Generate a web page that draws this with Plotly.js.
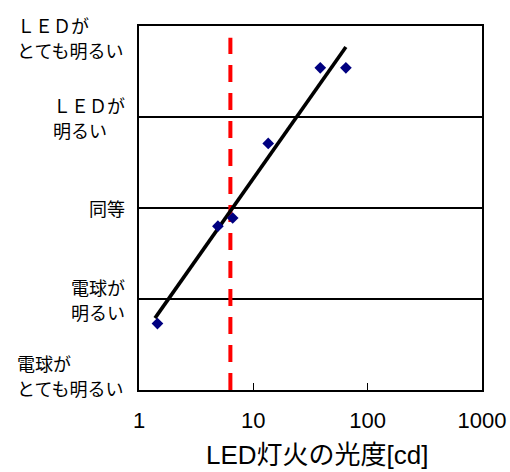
<!DOCTYPE html>
<html>
<head>
<meta charset="utf-8">
<script src="https://cdn.plot.ly/plotly-3.0.1.min.js"></script>
<style>
html,body{margin:0;padding:0;background:#fff;}
#chart{width:510px;height:472px;}
</style>
</head>
<body>
<div id="chart"></div>
<script>
// Data
var pointX = [1.45, 4.9, 6.6, 13.5, 38.5, 64.5];
var pointY = [-1.27, -0.2, -0.11, 0.71, 1.54, 1.54];
var trendX = [1.38, 64.5];
var trendY = [-1.21, 1.77];
var refX = [6.3, 6.3];
var refY = [-2, 1.87];
var xTickVals = [1, 10, 100, 1000];
var xTickText = ['1', '10', '100', '1000'];
var yLabelVals = [1.87, 1, 0, -1, -1.84];
var yLabels = ['ＬＥＤが<br>とても明るい', 'ＬＥＤが<br>明るい', '同等', '電球が<br>明るい', '電球が<br>とても明るい'];
var xTitle = 'LED灯火の光度[cd]';

var jp = '"Noto Sans CJK JP", "Noto Sans", sans-serif';
var latin = '"Liberation Sans", Arial, sans-serif';
var labelSize = 18;
var linePitch = 25;
var labelGap = 13;

var traces = [
  {x: refX, y: refY, type: 'scatter', mode: 'lines',
   line: {color: '#ff0000', width: 4, dash: '17px,11px'}, hoverinfo: 'skip'},
  {x: trendX, y: trendY, type: 'scatter', mode: 'lines',
   line: {color: '#000000', width: 3.6}, hoverinfo: 'skip'},
  {x: pointX, y: pointY, type: 'scatter', mode: 'markers',
   marker: {symbol: 'diamond', color: '#000080', size: 9, line: {width: 0}}}
];

var ctx = document.createElement('canvas').getContext('2d');
ctx.font = labelSize + 'px ' + jp;

var annotations = [];
yLabels.forEach(function (t, i) {
  var lines = t.split('<br>');
  var widths = lines.map(function (s) { return ctx.measureText(s).width; });
  var blockW = Math.max.apply(null, widths);
  lines.forEach(function (s, k) {
    annotations.push({text: s, xref: 'paper', yref: 'y', x: 0, y: yLabelVals[i],
      xanchor: 'left', yanchor: 'middle', xshift: -labelGap - blockW - 2,
      yshift: ((lines.length - 1) / 2 - k) * linePitch,
      showarrow: false, borderpad: 0,
      font: {family: jp, size: labelSize, color: '#000'}});
  });
});
annotations.push({text: xTitle, xref: 'paper', yref: 'paper', x: 0.5, y: 0,
  xanchor: 'center', yanchor: 'bottom', xshift: 7, yshift: -82, showarrow: false,
  font: {family: latin + ', ' + jp, size: 26, color: '#000'}});

var layout = {
  width: 510, height: 472,
  margin: {l: 139, r: 28, t: 26, b: 82},
  paper_bgcolor: '#fff', plot_bgcolor: '#fff',
  showlegend: false,
  xaxis: {type: 'log', range: [0, 3], tickvals: xTickVals, ticktext: xTickText,
    ticks: 'inside', ticklen: 7, tickwidth: 1, tickcolor: '#000',
    showline: true, mirror: true, linecolor: '#000', linewidth: 2,
    showgrid: false, zeroline: false, ticklabelstandoff: 10,
    tickfont: {family: latin, size: 22, color: '#000'}},
  yaxis: {range: [-2, 2], tickvals: [-1, 0, 1], showticklabels: false, ticks: '',
    showline: true, mirror: true, linecolor: '#000', linewidth: 2,
    showgrid: true, gridcolor: '#000', gridwidth: 1.5, zeroline: false},
  annotations: annotations
};

Plotly.newPlot('chart', traces, layout, {displayModeBar: false, staticPlot: true});
</script>
</body>
</html>
